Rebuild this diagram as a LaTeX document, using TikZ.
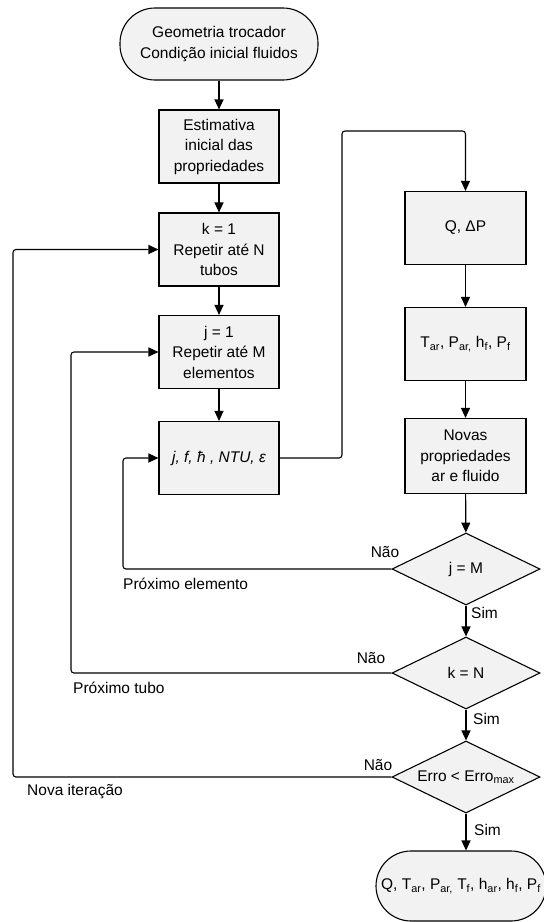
\documentclass[tikz,border=0pt]{standalone}
\usepackage{fontspec}
\setmainfont{Liberation Sans}
\usetikzlibrary{arrows.meta,shapes.geometric}
\definecolor{boxfill}{HTML}{F2F2F2}
\tikzset{
  base/.style={draw=black, line width=1.1pt, fill=boxfill, align=center,
    inner sep=0pt, font=\fontsize{15.5}{20.5}\selectfont},
  procbox/.style={base, rectangle, minimum width=120pt, minimum height=73pt},
  termbox/.style={base, rectangle, rounded corners=35pt, minimum height=72pt},
  decision/.style={base, diamond, minimum width=148pt, minimum height=72pt},
  flow/.style={line width=1.1pt, rounded corners=3pt,
    -{Triangle[length=10pt,width=9pt]}},
  note/.style={font=\fontsize{15.5}{18}\selectfont, inner sep=0pt}
}
% zero-width text so a diamond keeps its fixed size
\newcommand{\zerowide}[1]{\makebox[0pt]{#1}}
\begin{document}
\begin{tikzpicture}[x=1pt, y=-1pt]
  \useasboundingbox (0,0) rectangle (544,922);

  % left column
  \node[termbox, minimum width=198pt] (start) at (219,44)
    {Geometria trocador\\Condição inicial fluidos};
  \node[procbox] (est) at (219,146.5) {Estimativa\\inicial das\\propriedades};
  \node[procbox] (ktub) at (219,249.5) {k = 1\\Repetir até N\\tubos};
  \node[procbox] (jel) at (219,352) {j = 1\\Repetir até M\\elementos};
  \node[procbox] (calc) at (219,458) {\itshape j, f, ħ , NTU, ε};

  % right column
  \node[procbox, minimum width=121pt] (qdp) at (465.5,228) {Q, ΔP};
  \node[procbox, minimum width=121pt] (tp) at (465.5,344)
    {T\textsubscript{ar}, P\textsubscript{ar,} h\textsubscript{f}, P\textsubscript{f}};
  \node[procbox, minimum width=121pt, minimum height=75pt] (nov) at (465.5,456)
    {Novas\\propriedades\\ar e fluido};
  \node[decision] (jm) at (466,569) {\zerowide{j = M}};
  \node[decision] (kn) at (466,673) {\zerowide{k = N}};
  \node[decision] (err) at (466,777) {\zerowide{Erro < Erro\textsubscript{max}}};
  \node[termbox, minimum width=170pt, minimum height=70pt] (fim) at (461,886)
    {Q, T\textsubscript{ar}, P\textsubscript{ar,} T\textsubscript{f}, h\textsubscript{ar}, h\textsubscript{f}, P\textsubscript{f}};

  % bend points of the connectors
  \coordinate (up) at (342,131);
  \coordinate (l1) at (123,569);
  \coordinate (l2) at (71,673);
  \coordinate (l3) at (13,777);

  % main flow
  \draw[flow] (start) -- (est);
  \draw[flow] (est) -- (ktub);
  \draw[flow] (ktub) -- (jel);
  \draw[flow] (jel) -- (calc);
  \draw[flow] (calc.east) -| (up) -| (qdp.north);
  \draw[flow] (qdp) -- (tp);
  \draw[flow] (tp) -- (nov);
  \draw[flow] (nov) -- (jm);
  \draw[flow] (jm) -- (kn);
  \draw[flow] (kn) -- (err);
  \draw[flow] (err.south) -- (err.south |- fim.north);

  % loops
  \draw[flow] (jm.west) -- (l1) |- (calc.west);
  \draw[flow] (kn.west) -- (l2) |- (jel.west);
  \draw[flow] (err.west) -- (l3) |- (ktub.west);

  % labels
  \node[note] (n1) at (385,552) {Não};
  \node[note] (n2) at (371,658) {Não};
  \node[note] (n3) at (378,765) {Não};
  \node[note, anchor=west] (s1) at (471,613) {Sim};
  \node[note, anchor=west] (s2) at (473,719) {Sim};
  \node[note, anchor=west] (s3) at (474,830) {Sim};
  \node[note, anchor=west] (p1) at (123,584) {Próximo elemento};
  \node[note, anchor=west] (p2) at (73,688) {Próximo tubo};
  \node[note, anchor=west] (p3) at (27,792) {Nova iteração};
\end{tikzpicture}
\end{document}
